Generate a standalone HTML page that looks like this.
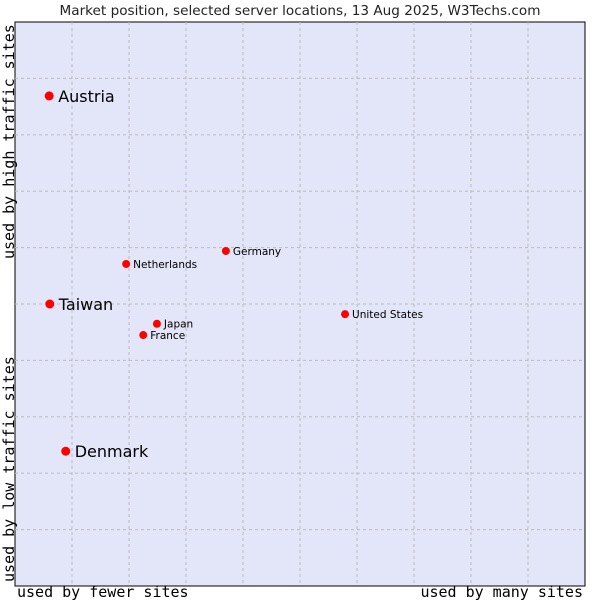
<!DOCTYPE html>
<html><head><meta charset="utf-8"><style>
html,body{margin:0;padding:0;background:#fff;}
svg{display:block;}
text{font-family:"DejaVu Sans","Liberation Sans",sans-serif;}
.mono{font-family:"DejaVu Sans Mono","Liberation Mono",monospace;}
</style></head><body>
<svg id="chart" width="600" height="600">
<text x="300" y="15" text-anchor="middle" font-size="13.6" fill="#222">Market position, selected server locations, 13 Aug 2025, W3Techs.com</text>
<rect x="15" y="22" width="570" height="564" fill="#e3e5f8" stroke="#000" stroke-width="1"/>
<g id="grid"></g>
<g id="marks"></g>
<text class="mono" x="17" y="597" font-size="15" fill="#000">used by fewer sites</text>
<text class="mono" x="583" y="597" text-anchor="end" font-size="15" fill="#000">used by many sites</text>
<text class="mono" transform="translate(14,582) rotate(-90)" font-size="15" fill="#000">used by low traffic sites</text>
<text class="mono" transform="translate(14,259) rotate(-90)" font-size="15" fill="#000">used by high traffic sites</text>
</svg>
<script>
const countries = ["Austria","Taiwan","Denmark","Netherlands","Germany","Japan","France","United States"];
const xValues = [6.0, 6.1, 8.9, 19.5, 37.0, 24.9, 22.5, 57.9];
const yValues = [86.9, 50.0, 23.9, 57.1, 59.4, 46.5, 44.5, 48.2];
const highlighted = [true, true, true, false, false, false, false, false];
const gridTicks = [10,20,30,40,50,60,70,80,90];

const NS = "http://www.w3.org/2000/svg";
const X0 = 15, X1 = 585, Y0 = 586, Y1 = 22;
function sx(v){ return X0 + (X1 - X0) * v / 100; }
function sy(v){ return Y0 - (Y0 - Y1) * v / 100; }
const grid = document.getElementById('grid');
gridTicks.forEach(t => {
  const lv = document.createElementNS(NS,'line');
  lv.setAttribute('x1', sx(t)); lv.setAttribute('x2', sx(t));
  lv.setAttribute('y1', Y1); lv.setAttribute('y2', Y0);
  lv.setAttribute('stroke', '#bbbbbb'); lv.setAttribute('stroke-dasharray', '3,3');
  
  
  grid.appendChild(lv);
  const lh = document.createElementNS(NS,'line');
  lh.setAttribute('y1', sy(t)); lh.setAttribute('y2', sy(t));
  lh.setAttribute('x1', X0); lh.setAttribute('x2', X1);
  lh.setAttribute('stroke', '#bbbbbb'); lh.setAttribute('stroke-dasharray', '3,3');
  
  
  grid.appendChild(lh);
});
const marks = document.getElementById('marks');
countries.forEach((c, i) => {
  const px = sx(xValues[i]), py = sy(yValues[i]);
  const big = highlighted[i];
  const d = document.createElementNS(NS,'circle');
  d.setAttribute('cx', px); d.setAttribute('cy', py);
  d.setAttribute('r', big ? 4.5 : 4);
  d.setAttribute('fill', '#ff0000');
  
  
  marks.appendChild(d);
  const t = document.createElementNS(NS,'text');
  t.setAttribute('x', px + (big ? 9 : 7));
  t.setAttribute('y', py + (big ? 6 : 4));
  t.setAttribute('font-size', big ? 16 : 10.5);
  t.setAttribute('fill', '#000');
  t.textContent = c;
  
  
  marks.appendChild(t);
});
</script>
</body></html>
